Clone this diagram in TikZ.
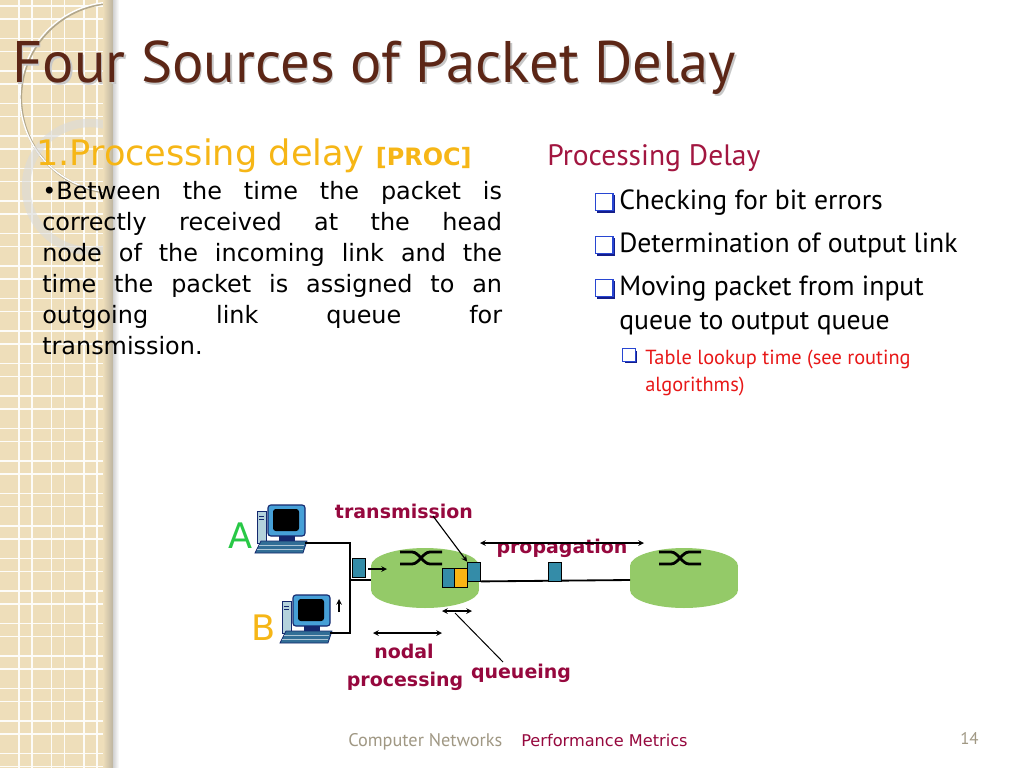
\documentclass[tikz,border=0pt]{standalone}
\usepackage{fontspec}
\setmainfont{PT Sans}
\newfontfamily\comicfont{DejaVu Sans}
\usetikzlibrary{shadows}

\definecolor{stripbeige}{RGB}{238,222,186}
\definecolor{titlebrown}{RGB}{92,38,22}
\definecolor{procgold}{RGB}{246,182,22}
\definecolor{headred}{RGB}{162,22,64}
\definecolor{lblred}{RGB}{150,8,62}
\definecolor{qblue}{RGB}{40,70,210}
\definecolor{qdark}{RGB}{20,30,140}
\definecolor{subred}{RGB}{232,24,24}
\definecolor{footgray}{RGB}{160,152,132}
\definecolor{pktteal}{RGB}{52,140,168}
\definecolor{pktorange}{RGB}{250,180,20}
\definecolor{routergreen}{RGB}{148,202,104}
\definecolor{pcblue}{RGB}{70,160,215}
\definecolor{pcnavy}{RGB}{20,40,110}
\definecolor{pctower}{RGB}{180,210,220}
\definecolor{pckey}{RGB}{50,110,150}
\definecolor{greenA}{RGB}{40,200,70}

\tikzset{
  gridwhite/.style={white!90!stripbeige, line width=0.9pt},
  qbox/.style={draw=qblue, line width=1pt, fill=white, inner sep=0pt, minimum size=#1,
    general shadow={fill=qdark, shadow xshift=1.4pt, shadow yshift=-1.4pt}},
  pkt/.style={draw, line width=0.6pt, fill=pktteal, inner sep=0pt, minimum width=9.2pt, minimum height=13.5pt},
  lbl/.style={font=\comicfont\bfseries\fontsize{13.5}{16}\selectfont, text=lblred, inner sep=0pt, anchor=base},
  bul/.style={font=\fontsize{19.7}{24}\selectfont, anchor=base west, inner sep=0pt},
  subbul/.style={font=\fontsize{14.5}{17}\selectfont, text=subred, anchor=base west, inner sep=0pt},
  wire/.style={line width=1pt},
  arr/.style={-stealth, line width=0.8pt},
  darr/.style={stealth-stealth, line width=0.8pt},
  pics/pcicon/.style={code={
    \filldraw[draw=pcnavy, fill=pctower, line width=0.5pt] (2,8) rectangle (11,40);
    \draw[pcnavy, line width=0.4pt] (4,13) -- (9,13) (4,16) -- (9,16);
    \filldraw[draw=pcnavy, fill=pcblue, line width=0.8pt, rounded corners=2pt] (13,2) rectangle (50,33);
    \fill[black, rounded corners=2pt] (18,6) rectangle (44,28);
    \fill[pcnavy] (24,33) rectangle (40,38);
    \filldraw[draw=pcnavy, fill=pckey, line width=0.5pt] (0,50) -- (6,38) -- (52,38) -- (48,50) -- cycle;
    \draw[white!60!pckey, line width=0.4pt] (4,42) -- (49,42) (2,46) -- (48,46);
    \coordinate (-port) at (50,40);
  }},
  pics/routerdisk/.style={code={
    \fill[routergreen] (0,-12) ellipse [x radius=54, y radius=18];
    \fill[routergreen] (-54,-12) rectangle (54,12);
    \fill[routergreen] (0,12) ellipse [x radius=54, y radius=18];
    \draw[line width=2pt] (-25,-26) -- (-13,-26) .. controls (-6,-26) and (-2,-14) .. (5,-14) -- (17,-14);
    \draw[line width=2pt] (-25,-14) -- (-13,-14) .. controls (-6,-14) and (-2,-26) .. (5,-26) -- (17,-26);
    \coordinate (-in) at (-54,2);
    \coordinate (-out) at (54,3);
  }}
}

\begin{document}
\begin{tikzpicture}[x=0.025cm, y=-0.025cm]
\useasboundingbox[fill=white] (0,0) rectangle (1024,768);

% left strip
\fill[stripbeige] (0,0) rectangle (113,768);
\begin{scope}
\clip (0,0) rectangle (113,768);
\foreach \k in {0,...,3} {
  \draw[gridwhite] ({19+32.5*\k},0) -- ({19+32.5*\k},768);
  \draw[gridwhite] ({32+32.5*\k},0) -- ({32+32.5*\k},768);
}
\foreach \k in {0,...,23} {
  \draw[gridwhite] (0,{6+32.5*\k}) -- (113,{6+32.5*\k});
  \draw[gridwhite] (0,{19+32.5*\k}) -- (113,{19+32.5*\k});
}
\draw[line width=1.6pt, black!25!stripbeige] (116,98) circle [radius=95];
\draw[line width=1pt, white] (115,97) circle [radius=95];
\draw[line width=6pt, black!14!white, opacity=0.6] (90,187) circle [radius=64];
\end{scope}
\shade[left color=stripbeige, right color=stripbeige!55!gray] (103,0) rectangle (113,768);
\shade[left color=black!18, right color=white] (113,0) rectangle (119,768);

% title
\node[anchor=base west, inner sep=0pt, text=black!22, font=\fontsize{41.7}{46}\selectfont] at (13.5,84.5) {Four Sources of Packet Delay};
\node[anchor=base west, inner sep=0pt, text=titlebrown, font=\fontsize{41.7}{46}\selectfont] (title) at (12,83) {Four Sources of Packet Delay};

% left column
\node[anchor=base west, inner sep=0pt, text=procgold, font=\comicfont\fontsize{25}{28}\selectfont] (prochead) at (36,166)
  {1.Processing delay {\fontsize{17}{19}\selectfont\bfseries [PROC]}};
\node[anchor=north west, inner sep=0pt, text width=327pt, align=justify, font=\comicfont\fontsize{17}{22}\selectfont] (procbody) at (42,181)
  {•Between the time the packet is\linebreak correctly received at the head\linebreak node of the incoming link and the\linebreak time the packet is assigned to an\linebreak outgoing link queue for\linebreak transmission.};

% right column
\node[anchor=base west, inner sep=0pt, text=headred, font=\fontsize{21}{25}\selectfont] (rhead) at (547,166) {Processing Delay};
\node[qbox=12.5pt] (b1) at (604,202) {};
\node[bul] (t1) at (619,209) {Checking for bit errors};
\node[qbox=12.5pt] (b2) at (604,245) {};
\node[bul] (t2) at (619,252) {Determination of output link};
\node[qbox=12.5pt] (b3) at (604,288) {};
\node[bul] (t3) at (619,295) {Moving packet from input};
\node[bul] (t3b) at (619,329) {queue to output queue};
\node[qbox=9pt, line width=0.7pt] (b4) at (629,355) {};
\node[subbul] (t4) at (645,364) {Table lookup time (see routing};
\node[subbul] (t4b) at (645,391) {algorithms)};

% network
\pic (pcA) at (255,503) {pcicon};
\pic (pcB) at (280,593) {pcicon};
\node[anchor=base, inner sep=0pt, text=greenA, font=\comicfont\fontsize{25}{28}\selectfont] (labA) at (241,548) {A};
\node[anchor=base, inner sep=0pt, text=procgold, font=\comicfont\fontsize{25}{28}\selectfont] (labB) at (264,640) {B};

\pic (rA) at (425,578) {routerdisk};
\pic (rB) at (684,578) {routerdisk};

\coordinate (jA) at (350,543);
\coordinate (jB) at (350,633);
\coordinate (jR) at (350,580);
\draw[wire] (pcA-port) -- (jA) -- (jB) -- (pcB-port);
\draw[wire] (jR) -- (rA-in);

\node[pkt] (pin) at (359,568) {};
\coordinate (inA) at (368,569);
\coordinate (inB) at (387,569);
\draw[arr] (inA) -- (inB);
\coordinate (upA) at (339,612);
\coordinate (upB) at (339,599);
\draw[arr] (upA) -- (upB);

\node[pkt] (q1) at (448.5,577.5) {};
\node[pkt, fill=pktorange] (q2) at (461,577.5) {};
\node[pkt] (q3) at (474,571.5) {};
\draw[line width=1.3pt] (q3.south east) -- (rB-in);
\node[pkt] (plink) at (554.5,571.5) {};

% labels
\node[lbl] (tx) at (404,518) {transmission};
\coordinate (txfoot) at (433,516);
\draw[arr] (txfoot) -- (q3.north west);

\node[lbl] (prop) at (562,553) {propagation};
\coordinate (prA) at (480,543);
\coordinate (prB) at (644,543);
\draw[darr] (prA) -- (prB);

\coordinate (quA) at (442,611);
\coordinate (quB) at (472,611);
\draw[darr] (quA) -- (quB);
\coordinate (quC) at (455,613);
\coordinate (quD) at (503,662);
\draw[line width=0.7pt] (quC) -- (quD);
\node[lbl] (queue) at (521,678) {queueing};

\coordinate (ndA) at (373,633);
\coordinate (ndB) at (442,633);
\draw[darr] (ndA) -- (ndB);
\node[lbl] (nodal) at (404,658) {nodal};
\node[lbl] (proc) at (405,686) {processing};

% footer
\node[anchor=base west, inner sep=0pt, text=footgray, font=\fontsize{13}{15}\selectfont] (foot1) at (348,746) {Computer Networks};
\node[anchor=base west, inner sep=0pt, text=lblred, font=\comicfont\fontsize{11.5}{14}\selectfont] (foot2) at (521,746) {Performance Metrics};
\node[anchor=base west, inner sep=0pt, text=footgray, font=\fontsize{12}{14}\selectfont] (pageno) at (960,744) {14};
\end{tikzpicture}
\end{document}
